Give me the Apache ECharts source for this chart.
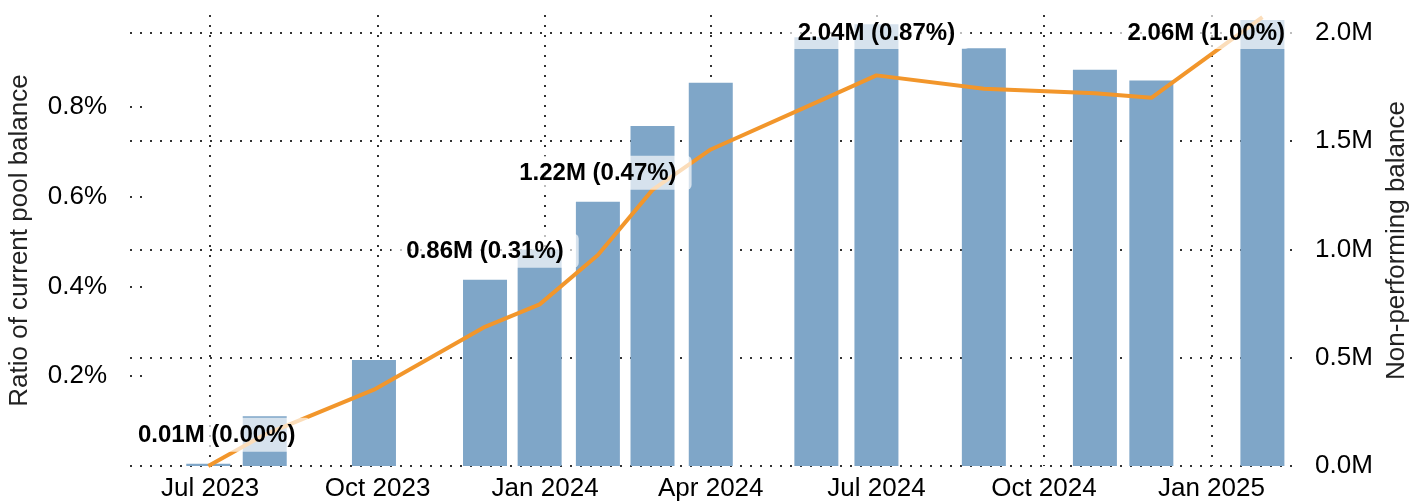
<!DOCTYPE html>
<html><head><meta charset="utf-8">
<script src="https://cdn.jsdelivr.net/npm/echarts@6/dist/echarts.min.js"></script>
<style>html,body{margin:0;padding:0;background:#fff}#c{width:1427px;height:504px}</style>
</head><body><div id="c"></div>
<script>
// ---- data ----
const dates = ['2023-06-30','2023-07-31','2023-09-29','2023-11-29','2023-12-29','2024-01-30','2024-02-29','2024-04-01','2024-05-29','2024-07-01','2024-08-29','2024-10-29','2024-11-29','2025-01-29'];
const balanceM = [0.01,0.23,0.49,0.86,1.00,1.22,1.57,1.77,1.98,2.04,1.93,1.83,1.78,2.06];
const ratioPct = [0.00,0.07,0.17,0.31,0.36,0.47,0.615,0.705,0.81,0.87,0.84,0.83,0.82,1.00];
const labeledIdx = [0,3,5,9,13];
const xTickDates = ['2023-07-01','2023-10-01','2024-01-01','2024-04-01','2024-07-01','2024-10-01','2025-01-01'];
const leftTicks = [0.2,0.4,0.6,0.8];
const rightTicks = [0,0.5,1.0,1.5,2.0];
const xRange = ['2023-05-18','2025-02-17'];
const leftName = 'Ratio of current pool balance';
const rightName = 'Non-performing balance';

// ---- chart ----
const ts = s => { const p = s.split('-').map(Number); return Date.UTC(p[0], p[1]-1, p[2]); };
const MONTHS = ['Jan','Feb','Mar','Apr','May','Jun','Jul','Aug','Sep','Oct','Nov','Dec'];
const FONT = '"Liberation Sans", Arial, Helvetica, sans-serif';
const dot = { color:'#333', width:2, type:[2,8] };
const xTicks = xTickDates.map(ts);
const G = {left:130, right:130, top:15, bottom:38};

const barData = dates.map((d,i) => [ts(d), balanceM[i]]);
const labelData = dates.map((d,i) => {
  const item = { value:[ts(d), balanceM[i]] };
  if (labeledIdx.indexOf(i) >= 0) item.label = { show:true };
  return item;
});
const lineData = dates.map((d,i) => [ts(d), ratioPct[i]]);

const chart = echarts.init(document.getElementById('c'), null, {renderer:'canvas'});
chart.setOption({
  animation:false,
  backgroundColor:'#fff',
  textStyle:{fontFamily:FONT},
  grid:{left:G.left, right:G.right, top:G.top, bottom:G.bottom, outerBoundsMode:'none', containLabel:false},
  xAxis:{
    type:'value', min:ts(xRange[0]), max:ts(xRange[1]),
    axisLine:{show:false},
    axisTick:{show:false, customValues:xTicks},
    axisLabel:{customValues:xTicks, fontSize:26, color:'#000', fontFamily:FONT, margin:10,
      formatter: v => { const d = new Date(v); return MONTHS[d.getUTCMonth()] + ' ' + d.getUTCFullYear(); }},
    splitLine:{show:true, lineStyle:dot}
  },
  yAxis:[
    { type:'value', position:'left', min:0, max:1.0045,
      axisLine:{show:false},
      axisTick:{show:true, inside:true, length:12, customValues:leftTicks, lineStyle:dot},
      axisLabel:{customValues:leftTicks, fontSize:26, color:'#000', fontFamily:FONT, margin:23,
        formatter: v => v.toFixed(1) + '%'},
      splitLine:{show:false},
      name:leftName, nameLocation:'middle', nameGap:97,
      nameTextStyle:{fontSize:26, color:'#222', fontFamily:FONT}
    },
    { type:'value', position:'right', min:0, max:2.0831,
      axisLine:{show:false},
      axisTick:{show:false, customValues:rightTicks},
      axisLabel:{customValues:rightTicks, fontSize:26, color:'#000', fontFamily:FONT, margin:18,
        formatter: v => v.toFixed(1) + 'M'},
      splitLine:{show:true, lineStyle:dot},
      name:rightName, nameLocation:'middle', nameRotate:90, nameGap:86,
      nameTextStyle:{fontSize:26, color:'#222', fontFamily:FONT}
    }
  ],
  series:[
    { type:'bar', yAxisIndex:1, data:barData, barWidth:44, barGap:'-100%', z:2,
      itemStyle:{color:'#7fa6c8'}
    },
    { type:'line', yAxisIndex:0, data:lineData, symbol:'none', showSymbol:false, z:3,
      lineStyle:{color:'#f2962b', width:4}
    },
    { type:'bar', yAxisIndex:1, data:labelData, barWidth:44, barGap:'-100%', z:4, silent:true,
      itemStyle:{color:'rgba(0,0,0,0)'},
      label:{show:false, position:'top', distance:12, fontSize:24, fontWeight:'bold', color:'#000',
        fontFamily:FONT, backgroundColor:'rgba(255,255,255,0.68)', borderRadius:5, padding:[4,15,2,15], lineHeight:28,
        formatter: p => balanceM[p.dataIndex].toFixed(2) + 'M (' + ratioPct[p.dataIndex].toFixed(2) + '%)'},
      labelLayout: p => {
        const r = p.labelRect; let dx = 0, dy = 0;
        if (r.x < 123) dx = 123 - r.x;
        if (r.x + r.width > 1300) dx = 1300 - (r.x + r.width);
        if (r.y < 15) dy = 15 - r.y;
        return {dx:dx, dy:dy};
      }
    }
  ]
});
</script></body></html>
